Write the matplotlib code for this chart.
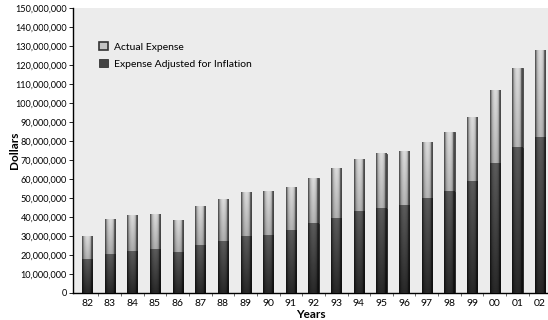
import numpy as np
import matplotlib.pyplot as plt
import matplotlib.ticker as mticker
from matplotlib.patches import Patch

plt.rcParams['font.family'] = ['Lato', 'DejaVu Sans']

# 年份与支出数据（美元）
years = ['82', '83', '84', '85', '86', '87', '88', '89', '90', '91', '92',
         '93', '94', '95', '96', '97', '98', '99', '00', '01', '02']
actual = [29.8, 38.8, 40.8, 41.3, 38.0, 45.4, 49.0, 53.0, 53.5, 55.6, 60.5,
          65.3, 70.5, 73.3, 74.6, 79.0, 84.6, 92.6, 106.4, 118.2, 127.4]
adjusted = [17.5, 20.5, 22.0, 23.0, 21.5, 25.0, 27.0, 30.0, 30.5, 33.0, 36.5,
            39.0, 42.8, 44.4, 46.3, 49.8, 53.3, 58.6, 68.3, 76.5, 81.9]
actual = np.array(actual) * 1e6
adjusted = np.array(adjusted) * 1e6

fig = plt.figure(figsize=(5.48, 3.2), dpi=100)
ax = fig.add_axes([73 / 548, 27 / 320, 1 - 73 / 548, (293 - 8) / 320])
ax.set_facecolor('#ececec')

x = np.arange(len(years))
w = 0.45
bars_a = ax.bar(x, actual, w, color='#b5b5b5', edgecolor='#3a3a3a', linewidth=0.6, zorder=2)
bars_d = ax.bar(x, adjusted, w, color='#484848', edgecolor='#2a2a2a', linewidth=0.6, zorder=3)

# 圆柱形的明暗：左右边缘暗，中间亮，越往下越暗
cols = np.linspace(-1, 1, 16)
side = 1 - 0.45 * np.abs(cols) ** 2
side[:2] *= 0.7
side[-3:] *= 0.6

def shade(bar, top_v, bot_v, z):
    x0, y0 = bar.get_x(), bar.get_y()
    x1, y1 = x0 + bar.get_width(), y0 + bar.get_height()
    rows = np.linspace(top_v, bot_v, 60)[:, None]
    img = rows * side[None, :]
    ax.imshow(img, cmap='gray', vmin=0, vmax=1, extent=[x0, x1, y0, y1],
              aspect='auto', interpolation='bilinear', zorder=z)

for ba, bd in zip(bars_a, bars_d):
    shade(ba, 0.86, 0.45, 2.5)
    shade(bd, 0.36, 0.16, 3.5)

ax.set_xlim(-0.62, 20.35)
ax.set_ylim(0, 150e6)

ax.set_yticks(np.arange(0, 150e6 + 1, 10e6))
ax.yaxis.set_major_formatter(mticker.FuncFormatter(lambda v, p: f'{int(v):,}'))
ax.set_xticks(x)
ax.set_xticklabels(years)
ax.set_xticks(x[:-1] + 0.5, minor=True)
ax.tick_params(axis='x', which='major', length=0, labelsize=7.5, pad=4)
ax.tick_params(axis='x', which='minor', length=2, width=0.6, color='#555555')
ax.tick_params(axis='y', length=3, width=0.6, labelsize=6.6, pad=1.5)

for s in ['top', 'right']:
    ax.spines[s].set_visible(False)
ax.spines['left'].set_linewidth(1.0)
ax.spines['bottom'].set_linewidth(1.0)

ax.set_xlabel('Years', fontsize=8.5, fontweight='bold', labelpad=1)
fig.text(0.026, 0.53, 'Dollars', rotation=90, fontsize=8.5, fontweight='bold',
         ha='center', va='center')

handles = [Patch(facecolor='#c4c4c4', edgecolor='#333333', linewidth=1.2),
           Patch(facecolor='#444444', edgecolor='#333333', linewidth=0.6)]
ax.legend(handles, ['Actual Expense', 'Expense Adjusted for Inflation'],
          loc='upper left', bbox_to_anchor=(0.035, 0.915), frameon=False,
          fontsize=7.5, handlelength=0.9, handleheight=0.9, handletextpad=0.5,
          labelspacing=0.7)

fig.savefig('out.png', dpi=100)
